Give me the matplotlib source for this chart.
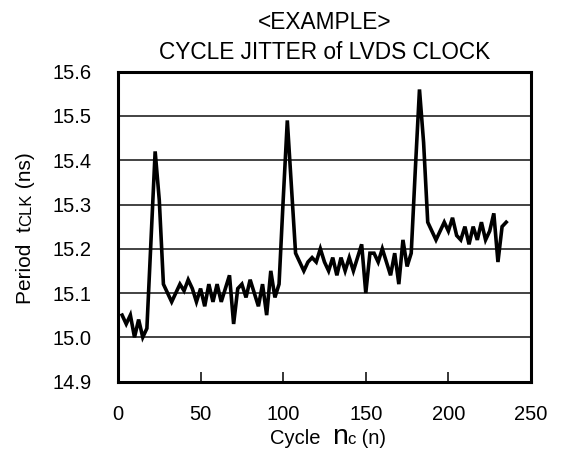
import numpy as np
import matplotlib
matplotlib.use("Agg")
import matplotlib.pyplot as plt

plt.rcParams['font.family'] = ['Liberation Sans', 'DejaVu Sans']

# sample index (every 2.5 cycles) and measured period in ns
cycle = np.arange(1, 95) * 2.5
period = [
    15.05, 15.03, 15.05, 15.00, 15.04, 15.00, 15.02, 15.22, 15.42, 15.31,
    15.12, 15.10, 15.08, 15.10, 15.12, 15.105, 15.13, 15.11, 15.08, 15.11,
    15.07, 15.12, 15.08, 15.12, 15.08, 15.11, 15.14, 15.03, 15.11, 15.12,
    15.09, 15.13, 15.10, 15.07, 15.12, 15.05, 15.15, 15.09, 15.12, 15.31,
    15.49, 15.34, 15.19, 15.17, 15.15, 15.17, 15.18, 15.17, 15.20, 15.17,
    15.15, 15.18, 15.14, 15.18, 15.15, 15.18, 15.15, 15.18, 15.21, 15.10,
    15.19, 15.19, 15.17, 15.20, 15.17, 15.14, 15.19, 15.12, 15.22, 15.16,
    15.19, 15.38, 15.56, 15.44, 15.26, 15.24, 15.22, 15.24, 15.26, 15.24,
    15.27, 15.23, 15.22, 15.25, 15.21, 15.25, 15.22, 15.26, 15.22, 15.24,
    15.28, 15.17, 15.25, 15.26,
]
x_ticks = [0, 50, 100, 150, 200, 250]
y_ticks = [14.9, 15.0, 15.1, 15.2, 15.3, 15.4, 15.5, 15.6]
y_tick_labels = ['14.9', '15.0', '15.1', '15.2', '15.3', '15.4', '15.5', '15.6']

FS = 14.5

fig = plt.figure(figsize=(5.61, 4.57), dpi=100)
ax = fig.add_axes([0.2103, 0.1652, 0.7362, 0.6778])

for yv in y_ticks[1:-1]:
    ax.axhline(yv, color='#222222', lw=1.2, zorder=1)
ax.plot(cycle, period, color='black', lw=2.6, solid_joinstyle='miter', zorder=3)

ax.set_xlim(0, 250)
ax.set_ylim(14.9, 15.6)
ax.set_xticks(x_ticks)
ax.set_yticks(y_ticks)
ax.set_yticklabels(y_tick_labels)
ax.tick_params(axis='x', direction='in', length=7, width=1.1, pad=17, labelsize=FS)
ax.tick_params(axis='y', length=0, pad=19, labelsize=FS)
for sp in ax.spines.values():
    sp.set_linewidth(2.2)
    sp.set_color('black')

ax.set_title('<EXAMPLE>\nCYCLE JITTER of LVDS CLOCK', fontsize=16.3, pad=9,
             linespacing=1.4)


def chain_text(pieces, x0, y0, rotated=False):
    """Place text pieces one after another, centred on (x0, y0) in pixels."""
    objs = []
    for s, size in pieces:
        t = fig.text(0, 0, s, fontsize=size, ha='left', va='baseline',
                     rotation=90 if rotated else 0, rotation_mode='anchor',
                     transform=None)
        objs.append(t)
    fig.canvas.draw()
    r = fig.canvas.get_renderer()
    lens = []
    for t in objs:
        bb = t.get_window_extent(r)
        lens.append(bb.height if rotated else bb.width)
    pos = -sum(lens) / 2
    for t, L in zip(objs, lens):
        if rotated:
            t.set_position((x0, y0 + pos))
        else:
            t.set_position((x0 + pos, y0))
        pos += L


H = 457
# x label: Cycle nc (n)
chain_text([('Cycle  ', FS), ('n', 20.5), ('c', 12), (' (n)', FS)], 328, H - 444)
# y label: Period tCLK (ns)
chain_text([('Period  t', 15), ('CLK', 12), (' (ns)', 15)], 31, H - 228, rotated=True)

fig.savefig('out.png', dpi=100)
